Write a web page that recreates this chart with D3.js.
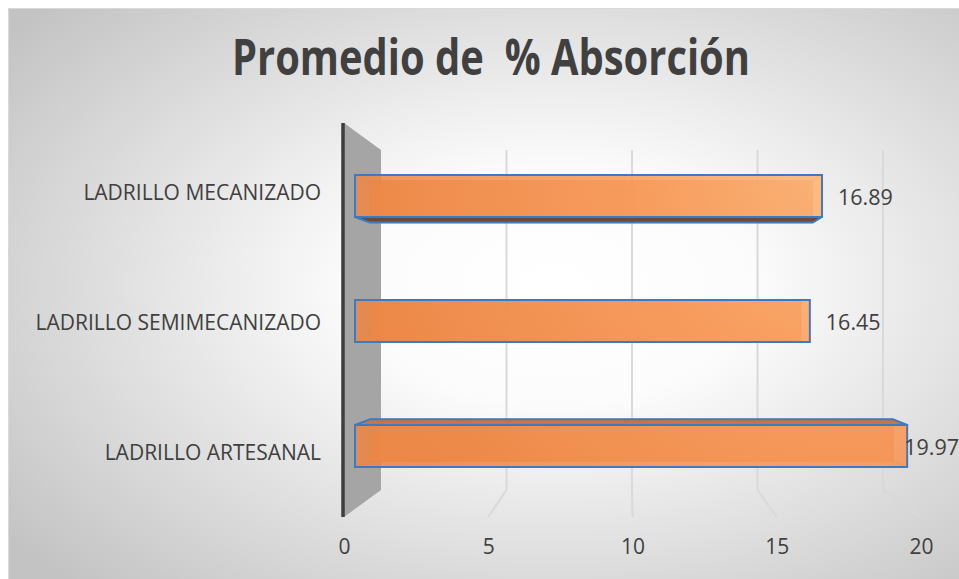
<!DOCTYPE html>
<html>
<head>
<meta charset="utf-8">
<script src="https://cdn.jsdelivr.net/npm/d3@7"></script>
<style>
  html, body { margin: 0; padding: 0; background: #ffffff; }
  svg { display: block; }
  svg text { font-family: "Open Sans", "Noto Sans", sans-serif; }
</style>
</head>
<body>
<svg id="chart" width="959" height="579"></svg>
<script>
// Average water absorption (%) by brick type
const categories = ["LADRILLO MECANIZADO", "LADRILLO SEMIMECANIZADO", "LADRILLO ARTESANAL"];
const values = [16.89, 16.45, 19.97];
const tickValues = [0, 5, 10, 15, 20];
const titleText = "Promedio de  % Absorción";

const W = 959, H = 579;
const FONT = "'Open Sans', 'Noto Sans', sans-serif";
const svg = d3.select("#chart");
const defs = svg.append("defs");

// chart-area background: soft radial grey
const bg = defs.append("radialGradient").attr("id", "bgGrad")
  .attr("cx", "0.57").attr("cy", "0.48").attr("r", "0.72");
bg.append("stop").attr("offset", "0").attr("stop-color", "#ffffff");
bg.append("stop").attr("offset", "0.28").attr("stop-color", "#fcfcfc");
bg.append("stop").attr("offset", "1").attr("stop-color", "#c3c3c3");

// bar front fill: lighter toward the upper right
const barGrad = defs.append("radialGradient").attr("id", "barGrad")
  .attr("gradientUnits", "userSpaceOnUse")
  .attr("cx", 860).attr("cy", 160).attr("r", 520);
barGrad.append("stop").attr("offset", "0").attr("stop-color", "#fdba7e");
barGrad.append("stop").attr("offset", "0.45").attr("stop-color", "#f89c5c");
barGrad.append("stop").attr("offset", "1").attr("stop-color", "#ec8645");

svg.append("rect")
  .attr("x", 8.5).attr("y", 8.5).attr("width", W).attr("height", H)
  .attr("fill", "url(#bgGrad)").attr("stroke", "#d9d9d9").attr("stroke-width", 1);

// title
svg.append("text")
  .attr("x", 491).attr("y", 75)
  .attr("text-anchor", "middle")
  .attr("font-family", FONT)
  .attr("font-size", 51).attr("font-weight", 700)
  .attr("fill", "#404040")
  .attr("textLength", 518).attr("lengthAdjust", "spacingAndGlyphs")
  .style("white-space", "pre")
  .text(titleText);

// 3D plot geometry: back wall, floor front edge, bar front and bar back planes
const xBack = d3.scaleLinear().domain([0, 20]).range([381, 883]);
const xFloor = d3.scaleLinear().domain([0, 20]).range([344, 921]);
const xBarFront = d3.scaleLinear().domain([0, 20]).range([355, 908]);
const xBarBack = d3.scaleLinear().domain([0, 20]).range([370, 894]);
const yBar = d3.scalePoint().domain(categories).range([133.5, 508.5]).padding(0.5);
const yLabel = d3.scalePoint().domain(categories).range([127.5, 517.5]).padding(0.5);
const backTop = 150, backBottom = 490, frontTop = 123, frontBottom = 517;
const horizon = 320, barH = 42;
const depthShift = cy => (horizon - cy) * 0.045;

// gridlines on the back wall and floor
const grid = svg.append("g").attr("stroke", "#d9d9d9").attr("stroke-width", 2).attr("fill", "none");
tickValues.filter(t => t > 0).forEach(t => {
  grid.append("path")
    .attr("d", d3.line()([[xBack(t), backTop], [xBack(t), backBottom], [xFloor(t), frontBottom]]));
});

// side wall at the value-axis origin
svg.append("path")
  .attr("d", d3.line()([[xFloor(0), frontTop], [xBack(0), backTop], [xBack(0), backBottom], [xFloor(0), frontBottom]]) + "Z")
  .attr("fill", "#a5a5a5");
svg.append("line")
  .attr("x1", xFloor(0) - 1).attr("x2", xFloor(0) - 1)
  .attr("y1", frontTop).attr("y2", frontBottom)
  .attr("stroke", "#3d3d3d").attr("stroke-width", 3.5);

// bars
const blue = "#3b7bc4";
categories.forEach((c, i) => {
  const v = values[i];
  const cy = yBar(c);
  const ds = depthShift(cy);
  const f0 = xBarFront(0), f1 = xBarFront(v);
  const b0 = xBarBack(0), b1 = xBarBack(v);
  const fT = cy - barH / 2, fB = cy + barH / 2;
  const bT = fT + ds, bB = fB + ds;
  const g = svg.append("g");

  // back face (seen through the translucent front)
  g.append("rect")
    .attr("x", b0).attr("y", bT).attr("width", b1 - b0).attr("height", barH)
    .attr("fill", "#e98443").attr("fill-opacity", 0.85)
    .attr("stroke", "#b8652e").attr("stroke-opacity", 0.45).attr("stroke-width", 1.2);
  // hidden connecting edges
  [[f0, fT, b0, bT], [f1, fT, b1, bT], [f0, fB, b0, bB], [f1, fB, b1, bB]].forEach(([x1, y1, x2, y2]) => {
    g.append("line").attr("x1", x1).attr("y1", y1).attr("x2", x2).attr("y2", y2)
      .attr("stroke", "#b8652e").attr("stroke-opacity", 0.45).attr("stroke-width", 1.2);
  });

  // front face
  g.append("rect")
    .attr("x", f0).attr("y", fT).attr("width", f1 - f0).attr("height", barH)
    .attr("fill", "url(#barGrad)").attr("fill-opacity", 0.88)
    .attr("stroke", blue).attr("stroke-width", 2);

  // visible top or bottom face
  if (ds > 1) {
    g.append("path")
      .attr("d", d3.line()([[f0, fB], [f1, fB], [b1, bB], [b0, bB]]) + "Z")
      .attr("fill", "#6d4a37").attr("stroke", blue).attr("stroke-width", 2)
      .attr("stroke-linejoin", "round");
  } else if (ds < -1) {
    g.append("path")
      .attr("d", d3.line()([[f0, fT], [b0, bT], [b1, bT], [f1, fT]]) + "Z")
      .attr("fill", "#c97442").attr("stroke", blue).attr("stroke-width", 2)
      .attr("stroke-linejoin", "round");
  }

  // value label
  const lbl = svg.append("text")
    .attr("y", cy + 1).attr("dy", "0.35em")
    .attr("font-family", FONT)
    .attr("font-size", 21.5).attr("fill", "#404040")
    .text(d3.format(".2f")(v));
  const w = lbl.node().getComputedTextLength();
  let lx = f1 + 16;
  if (lx + w > W) lx = W - w;
  lbl.attr("x", lx);
});

// value axis labels along the floor front edge
const xAxis = svg.append("g")
  .attr("transform", `translate(0,${frontBottom + 22})`)
  .call(d3.axisBottom(xFloor).tickValues(tickValues).tickSize(0).tickPadding(0).tickFormat(d3.format("d")));
xAxis.attr("font-family", FONT);
xAxis.select(".domain").remove();
xAxis.selectAll("text").attr("font-size", 21).attr("fill", "#404040");

// category labels
const yAxis = svg.append("g")
  .attr("transform", "translate(321,0)")
  .call(d3.axisLeft(yLabel).tickSize(0).tickPadding(0));
yAxis.attr("font-family", FONT);
yAxis.select(".domain").remove();
yAxis.selectAll("text").attr("font-size", 21).attr("fill", "#404040");
</script>
</body>
</html>
